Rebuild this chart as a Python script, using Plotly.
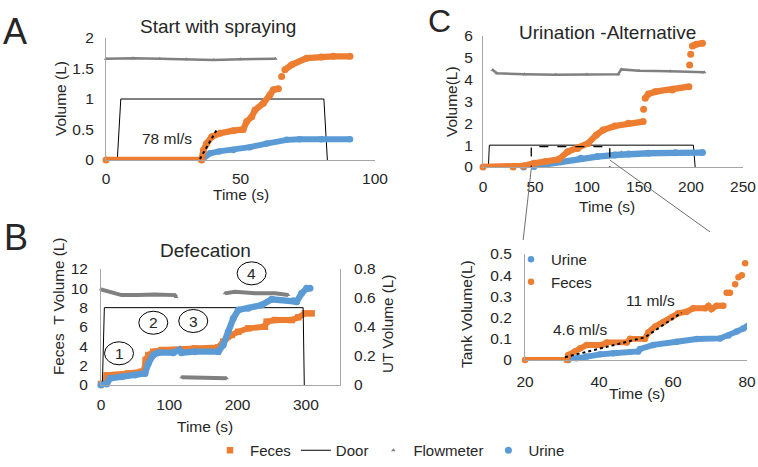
import plotly.graph_objects as go

W, H = 758, 467
ORANGE = "#ED7D31"
BLUE = "#5B9BD5"
GRAY = "#808080"
TXT = "#262626"
AXC = "#A6A6A6"
FONT = "Liberation Sans, Arial, sans-serif"

# ---------------- Panel A : Start with spraying ----------------
A_door_t = [4.2, 5.5, 81, 82.3]
A_door_v = [0, 1, 1, 0]
A_flow_t = [0, 10, 20, 30, 40, 50, 63]
A_flow_v = [1.66, 1.67, 1.66, 1.65, 1.64, 1.65, 1.66]
A_feces_t = [0, 35.5, 36.2, 37.4, 39.3, 42.4, 47.3, 51, 52.3, 54.2, 55.4, 58.5, 61, 62.2, 64.1,
             None, 65.3, None, 66.5, 69, 74.6, 80, 84.5, 90.7]
A_feces_v = [0, 0, 0.16, 0.27, 0.38, 0.44, 0.48, 0.50, 0.63, 0.71, 0.82, 0.93, 1.07, 1.15, 1.17,
             None, 1.37, None, 1.48, 1.56, 1.67, 1.69, 1.70, 1.70]
A_urine_t = [35.5, 38.7, 42, 47.3, 53.5, 59.7, 67.2, 72, 80, 90.7]
A_urine_v = [0, 0.11, 0.14, 0.164, 0.21, 0.27, 0.33, 0.34, 0.34, 0.34]
A_trend_t = [34.9, 41.1]
A_trend_v = [0.016, 0.49]

# ---------------- Panel B : Defecation ----------------
B_door_t = [2, 4.9, 296, 297.7]
B_door_v = [0, 8, 8, 0]
B_flow_t = [0, 10.7, 30, 54.6, 79, 108, 110.3, None, 115.7, None, 118, 150, 184,
            None, 181.5, 196, 225.5, 255, 274]
B_flow_v = [9.9, 9.65, 9.3, 9.3, 9.37, 9.3, 9.1, None, 3.9, None, 0.8, 0.75, 0.69,
            None, 9.48, 9.65, 9.48, 9.48, 9.3]
B_feces_t = [0, 6, 8.3, 20.5, 40, 59.6, 63, 65.4, 69.3, 76.6, 88.9, 137.6, 171.8, 179, 191.3,
             201, 215.7, 240, 242.6, 254.8, 279.2, 288.9, 298.7, 308.5]
B_feces_v = [0.1, 0.2, 1.0, 1.03, 1.2, 1.38, 1.45, 2.59, 3.1, 3.45, 3.62, 3.79, 3.9, 4.48, 5.17,
             5.5, 5.86, 6.03, 6.55, 6.72, 6.72, 7.0, 7.41, 7.41]
B_urine_t = [0, 8.3, 13.2, 30.3, 49.8, 64.4, 69.3, 76.6, 83.9, 105.9, 114, 118, 137.6, 171.8,
             179, 186.4, 193.7, 201, 215.7, 235.3, 250, 281.6, 286.5, 293.8, 301.2, 306]
B_urine_v = [0, 0.007, 0.046, 0.057, 0.069, 0.08, 0.149, 0.207, 0.223, 0.223, 0.24, 0.223, 0.23,
             0.23, 0.276, 0.367, 0.459, 0.517, 0.529, 0.551, 0.591, 0.581, 0.575, 0.632, 0.667, 0.667]
B_steps = ["1", "2", "3", "4"]
B_step_t = [26.4, 76.6, 135.1, 220.6]
B_step_v = [3.28, 6.44, 6.62, 11.55]

# ---------------- Panel C : Urination - Alternative ----------------
C_door_t = [5.2, 6.1, 202.3, 204]
C_door_v = [0, 1, 1, 0]
C_flow_t = [9.4, 13.3, 40, 70, 100, 130, 133, 150, 180, 212.7, None, 133]
C_flow_v = [4.44, 4.29, 4.25, 4.22, 4.24, 4.25, 4.47, 4.41, 4.38, 4.34, None, 0.67]
C_feces_t = [0, 29, 39, 49, 60, 73, 81.4, 91, 101, 109, 115.4, 126.8, 139.8, 154, None, 154.4, None,
             156, 159, 165.7, 182, 198, None, 198.7, None, 199.7, None, 201.4, 205, 211]
C_feces_v = [0, 0, 0.05, 0.17, 0.25, 0.35, 0.70, 0.85, 1.08, 1.47, 1.69, 1.88, 2.0, 2.08, None, 2.64, None,
             3.15, 3.34, 3.45, 3.53, 3.68, None, 4.67, None, 5.16, None, 5.54, 5.62, 5.67]
C_urine_t = [39, 49, 60, 75, 94, 110, 126.8, 140, 159, 185, 211]
C_urine_v = [0, 0.02, 0.12, 0.24, 0.40, 0.48, 0.55, 0.59, 0.63, 0.65, 0.66]
C_zoom_t = [46.4, 121.9]
C_zoom_v = [-0.08, 0.93]

# ---------------- Inset D : zoom of C ----------------
D_feces_t = [20, 31.3, 31.7, 33.5, 34.9, 36.7, 40.8, 42.1, 47.5, 48.4, 52.4, 53.3, 55.1, 57.4, 59.6,
             61.4, 63.7, 65.5, 68.7, 69.6, 70.4, 71.8, 73.6, None, 74.5, 75.4, None, 76.8, None,
             77.7, None, 78.6, None, 79.5, None, 80.4]
D_feces_v = [0, 0, 0.024, 0.04, 0.055, 0.071, 0.071, 0.083, 0.083, 0.10, 0.10, 0.13, 0.157, 0.178, 0.20,
             0.22, 0.228, 0.244, 0.244, 0.255, 0.24, 0.256, 0.256, None, 0.317, 0.317, None, 0.357, None,
             0.39, None, 0.40, None, 0.456, None, 0.50]
D_urine_t = [31.7, 33.9, 36.7, 40.3, 43.9, 50.6, 51.1, 54.7, 61, 66.4, 72.7, 75, 77.2, 79, 80.4]
D_urine_v = [0, 0.008, 0.016, 0.027, 0.032, 0.04, 0.052, 0.071, 0.086, 0.099, 0.102, 0.115, 0.134,
             0.149, 0.165]
D_trend_t = [30.8, 52.4, 62.3]
D_trend_v = [0.013, 0.107, 0.223]

# ---------------- layout geometry (pixels -> paper) ----------------
def dom_x(a, b):
    return [a / W, b / W]

def dom_y(bottom, top):
    return [1 - bottom / H, 1 - top / H]

AX = dict(A=(dom_x(106, 375), dom_y(160, 38), [0, 100], [0, 2]),
          B=(dom_x(101, 340), dom_y(385, 269), [0, 350], [0, 12]),
          C=(dom_x(483, 743), dom_y(167, 36), [0, 250], [0, 6]),
          D=(dom_x(525, 747), dom_y(360, 254), [20, 80], [0, 0.5]))

def to_paper(p, t, v):
    xd, yd, xr, yr = AX[p]
    px = xd[0] + (t - xr[0]) / (xr[1] - xr[0]) * (xd[1] - xd[0])
    py = yd[0] + (v - yr[0]) / (yr[1] - yr[0]) * (yd[1] - yd[0])
    return px, py

fig = go.Figure()

def series(x, y, xa, ya, color, size, symbol="circle", lw=None, name=None, legend="legend", show=False):
    # connecting band (no legend entry) + markers (legend entry)
    fig.add_trace(go.Scatter(
        x=x, y=y, xaxis=xa, yaxis=ya, mode="lines",
        line=dict(color=color, width=lw if lw is not None else size * 0.9),
        showlegend=False, hoverinfo="skip"))
    fig.add_trace(go.Scatter(
        x=x, y=y, xaxis=xa, yaxis=ya, mode="markers",
        marker=dict(color=color, size=size, symbol=symbol),
        name=name, showlegend=show, legend=legend, cliponaxis=False))

def door(x, y, xa, ya, show=False):
    fig.add_trace(go.Scatter(x=x, y=y, xaxis=xa, yaxis=ya, mode="lines",
                             line=dict(color="black", width=1), name="Door",
                             showlegend=show, legend="legend"))

def trend(x, y, xa, ya):
    fig.add_trace(go.Scatter(x=x, y=y, xaxis=xa, yaxis=ya, mode="lines",
                             line=dict(color="black", width=2, dash="dot"), showlegend=False))

# Panel B first so that legend order is Feces, Door, Flowmeter, Urine
series(B_feces_t, B_feces_v, "x2", "y2", ORANGE, 6.5, "square", name="Feces", show=True)
door(B_door_t, B_door_v, "x2", "y2", show=True)
series(B_flow_t, B_flow_v, "x2", "y2", GRAY, 4, "triangle-up", lw=4, name="Flowmeter", show=True)
series(B_urine_t, B_urine_v, "x2", "y3", BLUE, 7, name="Urine", show=True)

# Panel A
door(A_door_t, A_door_v, "x", "y")
series(A_flow_t, A_flow_v, "x", "y", GRAY, 4, "triangle-up", lw=2.5)
series(A_urine_t, A_urine_v, "x", "y", BLUE, 6.5)
series(A_feces_t, A_feces_v, "x", "y", ORANGE, 7)
trend(A_trend_t, A_trend_v, "x", "y")

# Panel C
door(C_door_t, C_door_v, "x3", "y4")
series(C_flow_t, C_flow_v, "x3", "y4", GRAY, 4, "triangle-up", lw=2.5)
series(C_urine_t, C_urine_v, "x3", "y4", BLUE, 7)
series(C_feces_t, C_feces_v, "x3", "y4", ORANGE, 7)

# Inset D
series(D_urine_t, D_urine_v, "x4", "y5", BLUE, 6.5, name="Urine", legend="legend2", show=True)
series(D_feces_t, D_feces_v, "x4", "y5", ORANGE, 6.5, name="Feces", legend="legend2", show=True)
trend(D_trend_t, D_trend_v, "x4", "y5")

def axis(dom, rng, tickvals, anchor, **kw):
    d = dict(domain=dom, range=rng, tickvals=tickvals, anchor=anchor, automargin=False,
             showgrid=False, zeroline=False, showline=True, linecolor=AXC, linewidth=1,
             ticks="", tickfont=dict(size=15.5, color=TXT, family=FONT), fixedrange=True)
    d.update(kw)
    return d

fig.update_layout(
    xaxis=axis(AX["A"][0], AX["A"][2], [0, 50, 100], "y", ticklabelstandoff=4),
    yaxis=axis(AX["A"][1], AX["A"][3], [0, 0.5, 1, 1.5, 2], "x", ticklabelstandoff=8),
    xaxis2=axis(AX["B"][0], AX["B"][2], [0, 100, 200, 300], "y2", ticklabelstandoff=5),
    yaxis2=axis(AX["B"][1], AX["B"][3], [0, 2, 4, 6, 8, 10, 12], "x2", ticklabelstandoff=9),
    yaxis3=axis(AX["B"][1], [0, 0.8], [0, 0.2, 0.4, 0.6, 0.8], "x2",
                overlaying="y2", side="right", ticklabelstandoff=10),
    xaxis3=axis(AX["C"][0], AX["C"][2], [0, 50, 100, 150, 200, 250], "y4", ticklabelstandoff=5),
    yaxis4=axis(AX["C"][1], AX["C"][3], [0, 1, 2, 3, 4, 5, 6], "x3", ticklabelstandoff=6),
    xaxis4=axis(AX["D"][0], AX["D"][2], [20, 40, 60, 80], "y5", ticklabelstandoff=7),
    yaxis5=axis(AX["D"][1], AX["D"][3], [0, 0.1, 0.2, 0.3, 0.4, 0.5], "x4", ticklabelstandoff=9),
)

ann = []

def text(s, xpx, ypx, size=15.5, angle=0):
    ann.append(dict(text=s, x=xpx / W, y=1 - ypx / H, xref="paper", yref="paper",
                    showarrow=False, xanchor="center", yanchor="middle", textangle=angle,
                    font=dict(size=size, color=TXT, family=FONT)))

def dtext(s, xa, ya, t, v, size=15.5):
    ann.append(dict(text=s, x=t, y=v, xref=xa, yref=ya, showarrow=False,
                    xanchor="center", yanchor="middle", font=dict(size=size, color=TXT, family=FONT)))

# panel letters
text("A", 15, 31, 36)
text("B", 16, 238, 36)
text("C", 439, 21, 32)
# titles
text("Start with spraying", 218, 27, 19)
text("Defecation", 205, 250, 19)
text("Urination -Alternative", 607, 33, 19)
# axis titles
text("Time (s)", 241, 194, 15.5)
text("Volume (L)", 60, 99, 15.5, -90)
text("Time (s)", 205, 426, 15.5)
text("Feces\u00a0\u00a0T Volume (L)", 58, 307, 15.3, -90)
text("UT Volume (L)", 387, 324, 15.3, -90)
text("Time (s)", 607, 206, 15.5)
text("Volume(L)", 452, 102, 15.5, -90)
text("Time (s)", 637, 393, 15.5)
text("Tank Volume(L)", 466, 314, 15.5, -90)
# rates
dtext("78 ml/s", "x", "y", 22.6, 0.355)
dtext("4.6 ml/s", "x4", "y5", 34.9, 0.146)
dtext("11 ml/s", "x4", "y5", 53.8, 0.283)

shapes = []
# circled step numbers in B
rx, ry = 14.5 / W, 11.5 / H
for s, t, v in zip(B_steps, B_step_t, B_step_v):
    px, py = to_paper("B", t, v)
    shapes.append(dict(type="circle", xref="paper", yref="paper", x0=px - rx, x1=px + rx,
                       y0=py - ry, y1=py + ry, line=dict(color="black", width=1)))
    ann.append(dict(text=s, x=px, y=py, xref="paper", yref="paper", showarrow=False,
                    xanchor="center", yanchor="middle", font=dict(size=15.5, color=TXT, family=FONT)))

# dashed zoom box in C
shapes.append(dict(type="rect", xref="x3", yref="y4", x0=C_zoom_t[0], x1=C_zoom_t[1],
                   y0=C_zoom_v[0], y1=C_zoom_v[1], line=dict(color="black", width=1.3, dash="dash")))
# connector lines from zoom box to inset
p0 = to_paper("C", C_zoom_t[0], C_zoom_v[0])
p1 = to_paper("D", 19.5, 0.566)
q0 = to_paper("C", C_zoom_t[1], 0.32)
q1 = to_paper("D", 70, 0.604)
for a, b in [(p0, p1), (q0, q1)]:
    shapes.append(dict(type="line", xref="paper", yref="paper", x0=a[0], y0=a[1], x1=b[0], y1=b[1],
                       line=dict(color="#707070", width=1)))

fig.update_layout(
    width=W, height=H, autosize=False,
    margin=dict(l=0, r=0, t=0, b=0, pad=0),
    paper_bgcolor="white", plot_bgcolor="rgba(0,0,0,0)",
    font=dict(family=FONT, color=TXT, size=15),
    annotations=ann, shapes=shapes,
    legend=dict(orientation="h", x=210 / W, xanchor="left", y=0, yanchor="bottom",
                font=dict(size=15, color=TXT, family=FONT), bgcolor="rgba(0,0,0,0)",
                itemwidth=30, traceorder="normal"),
    legend2=dict(orientation="v", x=511 / W, xanchor="left", y=1 - 243 / H, yanchor="top",
                 font=dict(size=15, color=TXT, family=FONT), bgcolor="rgba(0,0,0,0)",
                 itemwidth=30, tracegroupgap=0),
)

fig.write_html("out.html", config={"displayModeBar": False, "staticPlot": True},
               post_script="document.body.style.margin='0px';document.body.style.overflow='hidden';")
